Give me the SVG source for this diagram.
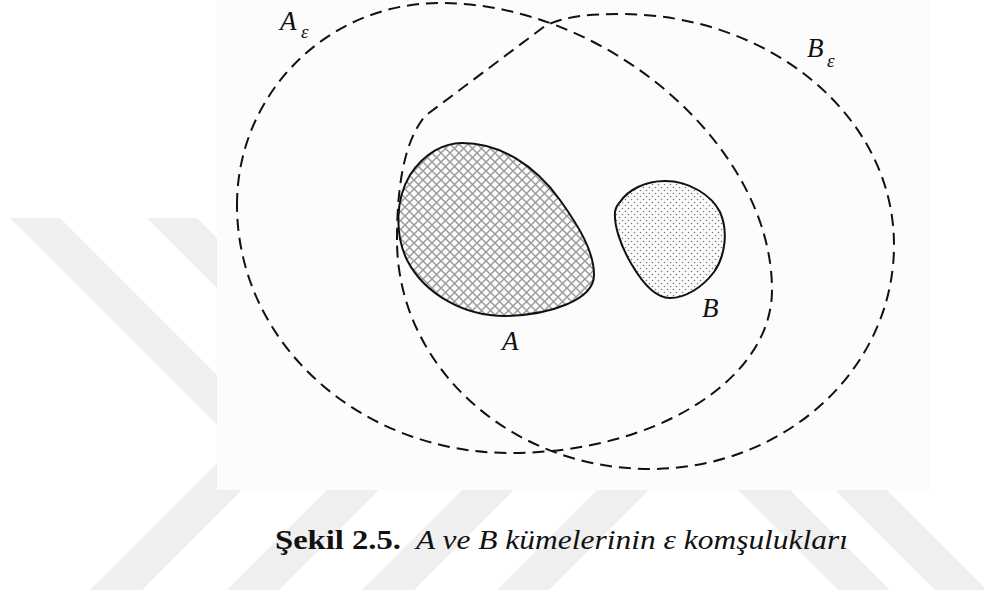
<svg xmlns="http://www.w3.org/2000/svg" width="984" height="597" viewBox="0 0 984 597">
<defs>
  <pattern id="cross" width="9" height="9" patternUnits="userSpaceOnUse">
    <path d="M-1,-1 L10,10 M10,-1 L-1,10" stroke="#9c9c9c" stroke-width="1.5"/>
  </pattern>
  <pattern id="dots" width="6" height="6" patternUnits="userSpaceOnUse">
    <circle cx="1.5" cy="1.5" r="0.8" fill="#7a7a7a"/>
    <circle cx="4.5" cy="4.5" r="0.8" fill="#7a7a7a"/>
  </pattern>
</defs>
<style>
  .wm { fill:#efefef; }
  .eps { fill:none; stroke:#111; stroke-width:2; stroke-dasharray:12 7; }
  .region { stroke:#111; stroke-width:2; }
</style>
<rect width="984" height="597" fill="#ffffff"/>
<g id="watermark">
  <polygon class="wm" points="10,218 60,218 287,445 142,590 90,590 236,444"/>
  <polygon class="wm" points="147,218 197,218 424,445 279,590 227,590 373,444"/>
  <polygon class="wm" points="282,218 332,218 559,445 414,590 362,590 508,444"/>
  <polygon class="wm" points="417,218 467,218 694,445 549,590 497,590 643,444"/>
  <polygon class="wm" points="692,444 744,444 890,590 838,590"/>
  <polygon class="wm" points="789,444 841,444 987,590 935,590"/>
</g>
<rect id="figure-bg" x="217" y="0" width="713" height="490" fill="#fcfcfc"/>
<g id="A-eps">
  <path class="eps" d="M 237,205 C 237,93 328,3 440,3 C 606,3 772,146 772,290 C 772,380 655,453 510,453 C 359,453 237,342 237,205 Z"/>
  <text x="280" y="30" font-family="Liberation Serif" font-style="italic" font-size="27" fill="#111">A</text><text x="301" y="38" font-family="Liberation Serif" font-style="italic" font-size="19" fill="#111">ε</text>
</g>
<g id="B-eps">
  <path class="eps" d="M 397,240 C 397,190 403,143 425,116 L 545,26 C 565,16 590,14 620,14 C 771,14 894,117 894,245 C 894,369 785,469 650,469 C 510,469 397,366 397,240 Z"/>
  <text x="807" y="57" font-family="Liberation Serif" font-style="italic" font-size="27" fill="#111">B</text><text x="827" y="67" font-family="Liberation Serif" font-style="italic" font-size="19" fill="#111">ε</text>
</g>
<g id="A">
  <path class="region" fill="url(#cross)" d="M 462,143 C 500,143 535,165 560,200 C 580,228 594,252 594,275 C 594,300 550,315 505,316 C 465,316 425,295 407,260 C 395,235 395,200 410,175 C 425,152 445,143 462,143 Z"/>
  <text x="502" y="350" font-family="Liberation Serif" font-style="italic" font-size="27" fill="#111">A</text>
</g>
<g id="B">
  <path class="region" fill="url(#dots)" d="M 620,202 C 628,190 645,181 665,181 C 690,181 712,196 720,212 C 728,230 726,255 714,272 C 702,288 685,298 670,298 C 655,298 642,282 632,265 C 620,245 614,225 615,212 C 616,206 618,204 620,202 Z"/>
  <text x="702" y="317" font-family="Liberation Serif" font-style="italic" font-size="27" fill="#111">B</text>
</g>
<g id="caption">
  <text y="549" font-family="Liberation Serif" font-size="27" fill="#111"><tspan x="275" font-weight="bold" textLength="126" lengthAdjust="spacingAndGlyphs">Şekil 2.5.</tspan><tspan x="416" font-style="italic" textLength="432" lengthAdjust="spacingAndGlyphs">A ve B kümelerinin ε komşulukları</tspan></text>
</g>
</svg>
